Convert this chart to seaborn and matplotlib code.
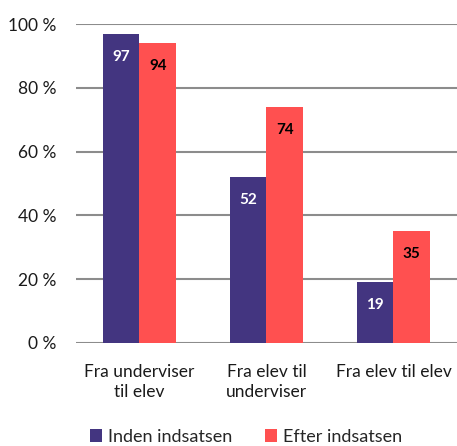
import numpy as np
import pandas as pd
import matplotlib
matplotlib.use("Agg")
import matplotlib.pyplot as plt
import seaborn as sns

categories = ["Fra underviser\ntil elev", "Fra elev til\nunderviser", "Fra elev til elev"]
before = [97, 52, 19]
after = [94, 74, 35]
series = ["Inden indsatsen", "Efter indsatsen"]
colors = ["#433580", "#FF5050"]
label_colors = ["white", "black"]

df = pd.DataFrame({
    "kategori": categories * 2,
    "andel": before + after,
    "periode": [series[0]] * 3 + [series[1]] * 3,
})

sns.set_theme(style="white")
plt.rcParams["font.family"] = ["Lato", "DejaVu Sans"]

fig = plt.figure(figsize=(4.57, 4.46), dpi=100)
ax = fig.add_axes([0.166, 0.231, 0.834, 0.715])

ax.yaxis.grid(True, color="#8c8c8c", linewidth=1.5)
ax.set_axisbelow(True)
sns.barplot(data=df, x="kategori", y="andel", hue="periode", palette=colors,
            width=0.575, saturation=1, linewidth=0, ax=ax, legend=True)

# value labels inside the bars
for cont, lc in zip(ax.containers, label_colors):
    for bar in cont:
        h = bar.get_height()
        ax.annotate(f"{h:.0f}", (bar.get_x() + bar.get_width() / 2, h),
                    xytext=(0, -16.5), textcoords="offset points",
                    ha="center", va="center", color=lc,
                    fontsize=11, fontweight="bold")

ax.set_ylim(0, 100)
ax.set_xlim(-0.5, 2.5)
ax.set_yticks([0, 20, 40, 60, 80, 100])
ax.set_yticklabels([f"{v} %" for v in [0, 20, 40, 60, 80, 100]], fontsize=12.5, color="#1a1a1a")
ax.tick_params(axis="x", labelsize=12.5, labelcolor="#1a1a1a", pad=9)
for t in ax.get_xticklabels():
    t.set_linespacing(1.35)
ax.tick_params(axis="y", pad=14, length=0)
ax.set_xlabel("")
ax.set_ylabel("")
sns.despine(ax=ax, left=True, bottom=True, top=True, right=True)

handles, labels = ax.get_legend_handles_labels()
ax.legend(handles, labels, loc="center", bbox_to_anchor=(0.446, -0.295), ncol=2,
          frameon=False, fontsize=13, handlelength=0.7, handleheight=0.7,
          handletextpad=0.3, columnspacing=1.8)

fig.savefig("out.png", dpi=100)
